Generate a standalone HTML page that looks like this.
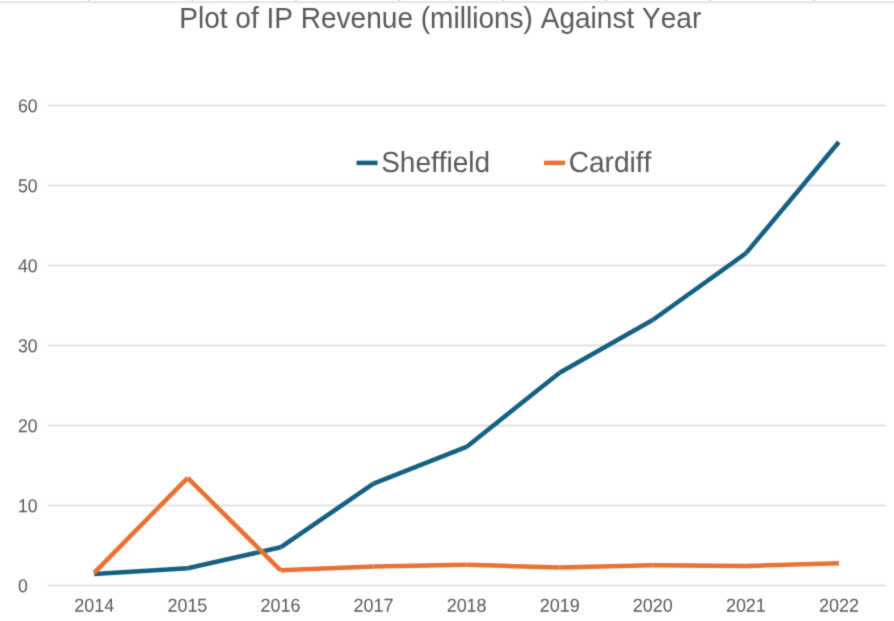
<!DOCTYPE html>
<html><head><meta charset="utf-8"><title>Plot of IP Revenue (millions) Against Year</title>
<style>
html,body{margin:0;padding:0;background:#fff;}
body{width:894px;height:621px;overflow:hidden;font-family:"Liberation Sans",sans-serif;}
svg{display:block;}
text{font-family:"Liberation Sans",sans-serif;fill:#595959;font-variant-ligatures:none;font-kerning:none;}
</style></head><body>
<svg width="894" height="621" viewBox="0 0 894 621">
<defs><filter id="soft" x="0" y="0" width="894" height="621" filterUnits="userSpaceOnUse" color-interpolation-filters="sRGB"><feConvolveMatrix order="5" kernelMatrix="0.00000 0.00013 0.00070 0.00013 0.00000 0.00013 0.01910 0.09973 0.01910 0.00013 0.00070 0.09973 0.52080 0.09973 0.00070 0.00013 0.01910 0.09973 0.01910 0.00013 0.00000 0.00013 0.00070 0.00013 0.00000" edgeMode="duplicate" preserveAlpha="false"/></filter></defs>
<g filter="url(#soft)">
<rect x="-5" y="-5" width="904" height="631" fill="#ffffff"/>
<!-- spreadsheet cell border above the chart -->
<line x1="-5" y1="2.1" x2="899" y2="2.1" stroke="#e6e6e6" stroke-width="2.2"/>
<line x1="88.5" y1="-1" x2="88.5" y2="1.3" stroke="#c4c4c4" stroke-width="1.3"/>
<line x1="192.5" y1="-1" x2="192.5" y2="1.3" stroke="#c4c4c4" stroke-width="1.3"/>
<line x1="296" y1="-1" x2="296" y2="1.3" stroke="#c4c4c4" stroke-width="1.3"/>
<line x1="399.5" y1="-1" x2="399.5" y2="1.3" stroke="#c4c4c4" stroke-width="1.3"/>
<line x1="503" y1="-1" x2="503" y2="1.3" stroke="#c4c4c4" stroke-width="1.3"/>
<line x1="606" y1="-1" x2="606" y2="1.3" stroke="#c4c4c4" stroke-width="1.3"/>
<line x1="710" y1="-1" x2="710" y2="1.3" stroke="#c4c4c4" stroke-width="1.3"/>
<line x1="814" y1="-1" x2="814" y2="1.3" stroke="#c4c4c4" stroke-width="1.3"/>
<!-- chart title -->
<text transform="translate(179.2 27.85) rotate(0.02) scale(1 1.025)" font-size="28.05">Plot of IP Revenue (millions) Against Year</text>
<!-- horizontal gridlines -->
<line x1="47.6" y1="585.5" x2="886.0" y2="585.5" stroke="#e1e1e1" stroke-width="2.2"/>
<line x1="47.6" y1="505.5" x2="886.0" y2="505.5" stroke="#e1e1e1" stroke-width="2.2"/>
<line x1="47.6" y1="425.5" x2="886.0" y2="425.5" stroke="#e1e1e1" stroke-width="2.2"/>
<line x1="47.6" y1="345.5" x2="886.0" y2="345.5" stroke="#e1e1e1" stroke-width="2.2"/>
<line x1="47.6" y1="265.5" x2="886.0" y2="265.5" stroke="#e1e1e1" stroke-width="2.2"/>
<line x1="47.6" y1="185.5" x2="886.0" y2="185.5" stroke="#e1e1e1" stroke-width="2.2"/>
<line x1="47.6" y1="105.5" x2="886.0" y2="105.5" stroke="#e1e1e1" stroke-width="2.2"/>
<!-- Sheffield series -->
<line x1="94.20" y1="574.00" x2="187.70" y2="568.30" stroke="#156082" stroke-width="4.5"/>
<line x1="187.70" y1="568.30" x2="280.60" y2="547.30" stroke="#156082" stroke-width="4.5"/>
<line x1="280.60" y1="547.30" x2="373.50" y2="483.60" stroke="#156082" stroke-width="4.5"/>
<line x1="373.50" y1="483.60" x2="466.45" y2="446.90" stroke="#156082" stroke-width="4.5"/>
<line x1="466.45" y1="446.90" x2="559.60" y2="372.80" stroke="#156082" stroke-width="4.5"/>
<line x1="559.60" y1="372.80" x2="652.70" y2="320.00" stroke="#156082" stroke-width="4.5"/>
<line x1="652.70" y1="320.00" x2="745.80" y2="253.40" stroke="#156082" stroke-width="4.5"/>
<line x1="745.80" y1="253.40" x2="838.85" y2="142.00" stroke="#156082" stroke-width="4.5"/>
<!-- Cardiff series -->
<line x1="94.20" y1="572.80" x2="187.70" y2="477.80" stroke="#e97132" stroke-width="4.5"/>
<line x1="187.70" y1="477.80" x2="280.60" y2="570.30" stroke="#e97132" stroke-width="4.5"/>
<line x1="280.60" y1="570.30" x2="373.50" y2="566.40" stroke="#e97132" stroke-width="4.5"/>
<line x1="373.50" y1="566.40" x2="466.45" y2="564.80" stroke="#e97132" stroke-width="4.5"/>
<line x1="466.45" y1="564.80" x2="559.60" y2="567.40" stroke="#e97132" stroke-width="4.5"/>
<line x1="559.60" y1="567.40" x2="652.70" y2="565.20" stroke="#e97132" stroke-width="4.5"/>
<line x1="652.70" y1="565.20" x2="745.80" y2="566.00" stroke="#e97132" stroke-width="4.5"/>
<line x1="745.80" y1="566.00" x2="838.85" y2="563.20" stroke="#e97132" stroke-width="4.5"/>
<!-- value axis labels -->
<text transform="translate(17.9 592.3) rotate(0.03) scale(0.939 1)" font-size="18.8">0</text>
<text transform="translate(17.9 512.3) rotate(0.03) scale(0.939 1)" font-size="18.8">10</text>
<text transform="translate(17.9 432.3) rotate(0.03) scale(0.939 1)" font-size="18.8">20</text>
<text transform="translate(17.9 352.3) rotate(0.03) scale(0.939 1)" font-size="18.8">30</text>
<text transform="translate(17.9 272.3) rotate(0.03) scale(0.939 1)" font-size="18.8">40</text>
<text transform="translate(17.9 192.3) rotate(0.03) scale(0.939 1)" font-size="18.8">50</text>
<text transform="translate(17.9 112.3) rotate(0.03) scale(0.939 1)" font-size="18.8">60</text>
<!-- category axis labels -->
<text transform="translate(94.30 611.7) rotate(0.03) scale(0.955 1)" text-anchor="middle" font-size="18.8">2014</text>
<text transform="translate(187.38 611.7) rotate(0.03) scale(0.955 1)" text-anchor="middle" font-size="18.8">2015</text>
<text transform="translate(280.46 611.7) rotate(0.03) scale(0.955 1)" text-anchor="middle" font-size="18.8">2016</text>
<text transform="translate(373.54 611.7) rotate(0.03) scale(0.955 1)" text-anchor="middle" font-size="18.8">2017</text>
<text transform="translate(466.62 611.7) rotate(0.03) scale(0.955 1)" text-anchor="middle" font-size="18.8">2018</text>
<text transform="translate(559.70 611.7) rotate(0.03) scale(0.955 1)" text-anchor="middle" font-size="18.8">2019</text>
<text transform="translate(652.78 611.7) rotate(0.03) scale(0.955 1)" text-anchor="middle" font-size="18.8">2020</text>
<text transform="translate(745.86 611.7) rotate(0.03) scale(0.955 1)" text-anchor="middle" font-size="18.8">2021</text>
<text transform="translate(838.94 611.7) rotate(0.03) scale(0.955 1)" text-anchor="middle" font-size="18.8">2022</text>
<!-- legend -->
<line x1="356.5" y1="162.9" x2="377.6" y2="162.9" stroke="#156082" stroke-width="4.5"/>
<text transform="translate(381.2 172.05) rotate(0.03) scale(1 1.035)" font-size="28.0">Sheffield</text>
<line x1="544" y1="162.9" x2="565.1" y2="162.9" stroke="#e97132" stroke-width="4.5"/>
<text transform="translate(568.7 172.05) rotate(0.03) scale(1 1.035)" font-size="28.1">Cardiff</text>
</g>
</svg>
</body></html>
